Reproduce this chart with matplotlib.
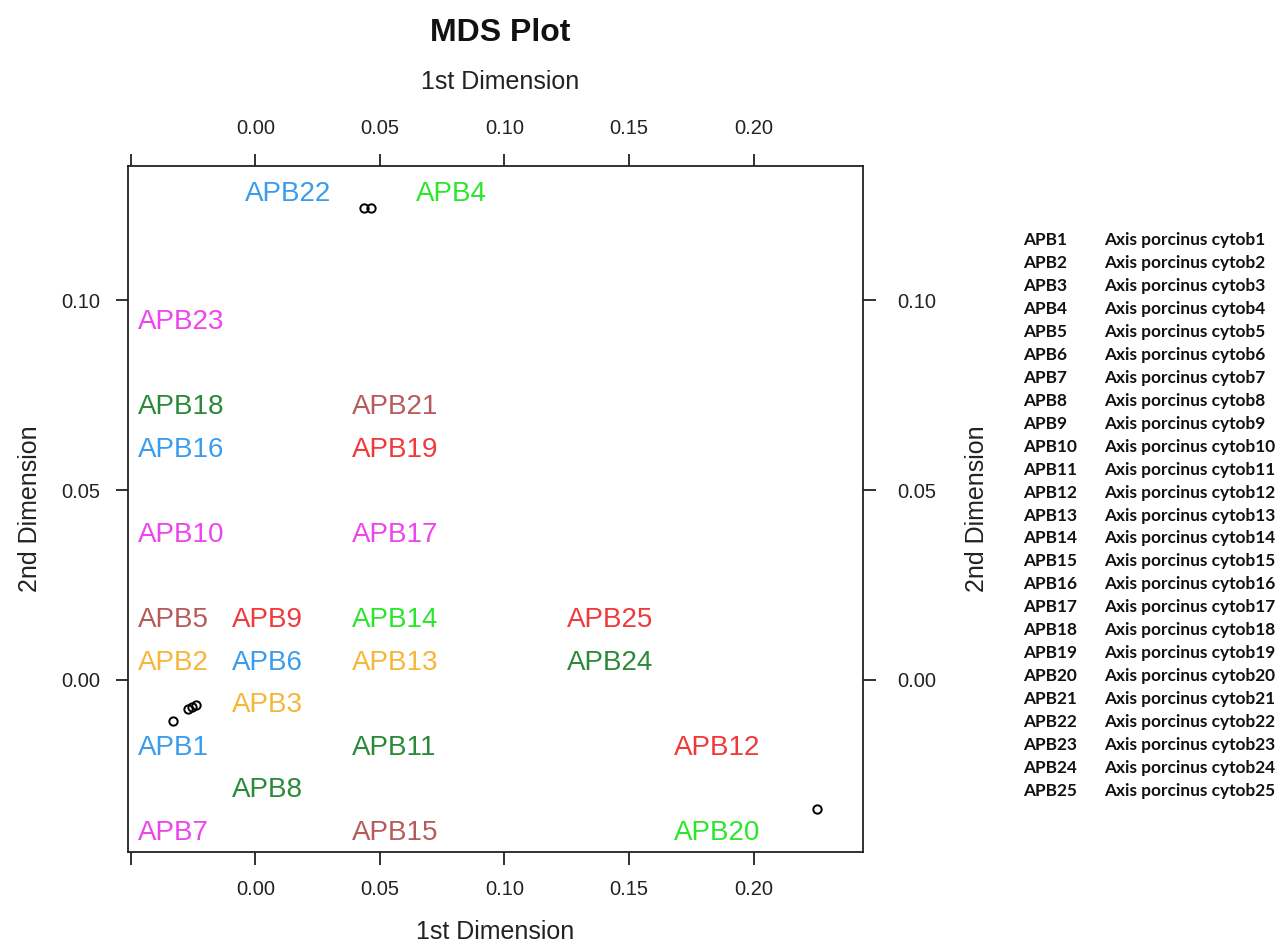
import matplotlib
matplotlib.use("Agg")
import matplotlib.pyplot as plt
from matplotlib.transforms import ScaledTranslation

# ---- data ----
labels = ["APB1", "APB2", "APB3", "APB4", "APB5", "APB6", "APB7", "APB8", "APB9",
          "APB10", "APB11", "APB12", "APB13", "APB14", "APB15", "APB16", "APB17",
          "APB18", "APB19", "APB20", "APB21", "APB22", "APB23", "APB24", "APB25"]
label_x = [-0.0471, -0.0471, -0.0093, 0.0645, -0.0471, -0.0093, -0.0471, -0.0093, -0.0093,
           -0.0471, 0.0388, 0.1680, 0.0388, 0.0388, 0.0388, -0.0471, 0.0388,
           -0.0471, 0.0388, 0.1680, 0.0388, -0.0041, -0.0471, 0.1251, 0.1251]
label_y = [-0.0179, 0.0045, -0.0066, 0.1279, 0.0158, 0.0045, -0.0403, -0.0289, 0.0158,
           0.0382, -0.0179, -0.0179, 0.0045, 0.0158, -0.0403, 0.0605, 0.0382,
           0.0718, 0.0605, -0.0403, 0.0718, 0.1279, 0.0942, 0.0045, 0.0158]
label_colors = ["#3A9CEE", "#F6B637", "#F6B637", "#2BE62B", "#B65A5C", "#3A9CEE", "#EE44EE",
                "#2A8A3A", "#F0393A", "#EE44EE", "#2A8A3A", "#F0393A", "#F6B637", "#2BE62B",
                "#B65A5C", "#3A9CEE", "#EE44EE", "#2A8A3A", "#F0393A", "#2BE62B", "#B65A5C",
                "#3A9CEE", "#EE44EE", "#2A8A3A", "#F0393A"]

point_x = [0.0435, 0.0465, -0.0330, -0.0270, -0.0254, -0.0238, 0.2254]
point_y = [0.1242, 0.1242, -0.0108, -0.0076, -0.0071, -0.0066, -0.0339]

xticks = [-0.05, 0.00, 0.05, 0.10, 0.15, 0.20]
xtick_labels = ["", "0.00", "0.05", "0.10", "0.15", "0.20"]
yticks = [0.00, 0.05, 0.10]
ytick_labels = ["0.00", "0.05", "0.10"]

species = ["Axis porcinus cytob%d" % i for i in range(1, 26)]

# ---- figure ----
plt.rcParams['font.family'] = ['Liberation Sans', 'DejaVu Sans']
fig = plt.figure(figsize=(12.86, 9.44), dpi=100)
ax = fig.add_axes([128/1286, 1 - 852/944, (863-128)/1286, (852-166)/944])

ax.plot(point_x, point_y, linestyle="none", marker="o", markersize=6,
        markerfacecolor="none", markeredgecolor="black", markeredgewidth=1.4)

for lab, x, y, c in zip(labels, label_x, label_y, label_colors):
    ax.text(x, y, lab, color=c, fontsize=20, ha="left", va="center")

ax.set_xlim(-0.0511, 0.2439)
ax.set_ylim(-0.0453, 0.1353)

for s in ax.spines.values():
    s.set_linewidth(1.3)
    s.set_color("#222222")

ax.set_xticks(xticks)
ax.set_xticklabels(xtick_labels)
ax.set_yticks(yticks)
ax.set_yticklabels(ytick_labels)
ax.tick_params(axis="x", which="both", direction="out", length=9, width=1.3,
               top=True, labeltop=True, bottom=True, labelbottom=True,
               labelsize=14.5, pad=11, colors="#222222")
ax.tick_params(axis="y", which="both", direction="out", length=9, width=1.3,
               left=True, labelleft=True, right=True, labelright=True,
               labelsize=14.5, pad=11, colors="#222222")
shift = ScaledTranslation(6/100, 0, fig.dpi_scale_trans)
for tk in ax.yaxis.get_major_ticks():
    tk.label2.set_transform(tk.label2.get_transform() + shift)

ax.set_xlabel("1st Dimension", fontsize=18, color="#222222", labelpad=15)
ax.set_ylabel("2nd Dimension", fontsize=18, color="#222222", labelpad=14)

fig.text(500/1286, 1 - 82/944, "1st Dimension", fontsize=18, color="#222222",
         ha="center", va="center")
fig.text(977/1286, 1 - 509/944, "2nd Dimension", fontsize=18, color="#222222",
         ha="center", va="center", rotation=90)
fig.text(500/1286, 1 - 33/944, "MDS Plot", fontsize=23, fontweight="bold",
         color="#111111", ha="center", va="center")

# side table
y0, dy = 240, 22.96
for i, (lab, sp) in enumerate(zip(labels, species)):
    yy = 1 - (y0 + i * dy) / 944
    fig.text(1023/1286, yy, lab, fontsize=12.4, fontweight="bold", family="Lato",
             color="#111111", ha="left", va="center")
    fig.text(1104/1286, yy, sp, fontsize=12.4, fontweight="bold", family="Lato",
             color="#111111", ha="left", va="center")

fig.savefig("out.png", dpi=100, facecolor="white")
